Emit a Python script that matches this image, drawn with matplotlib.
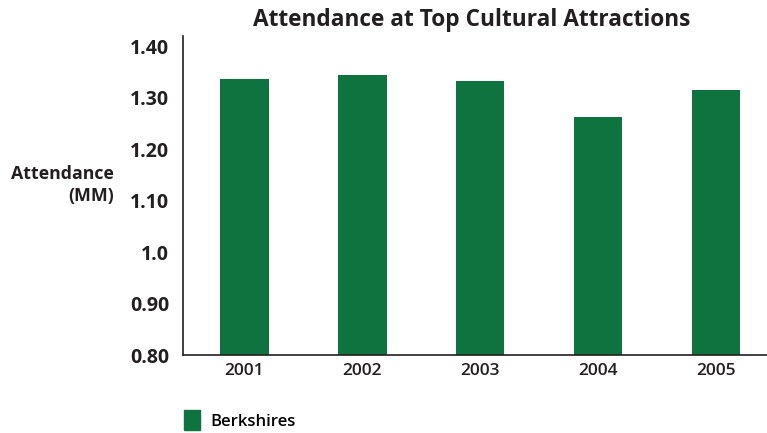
import matplotlib.pyplot as plt
from matplotlib.patches import Patch

years = ['2001', '2002', '2003', '2004', '2005']
attendance = [1.336, 1.344, 1.332, 1.263, 1.315]
y_ticks = [0.80, 0.90, 1.0, 1.10, 1.20, 1.30, 1.40]
y_tick_labels = ['0.80', '0.90', '1.0', '1.10', '1.20', '1.30', '1.40']

green = '#0E733E'
plt.rcParams['font.family'] = ['Open Sans', 'DejaVu Sans']

fig = plt.figure(figsize=(7.67, 4.33), dpi=100)
ax = fig.add_axes([0.2386, 0.180, 0.7614, 0.737])

ax.bar(range(len(years)), attendance, width=0.41, color=green)
ax.set_xlim(-0.52, 4.43)
ax.set_ylim(0.80, 1.42)
ax.set_yticks(y_ticks)
ax.set_yticklabels(y_tick_labels, fontsize=14, fontweight='bold', color='#231F20')
ax.set_xticks(range(len(years)))
ax.set_xticklabels(years, fontsize=12.5, fontweight='semibold', color='#231F20')
ax.tick_params(length=0)
ax.tick_params(axis='y', pad=10)
ax.tick_params(axis='x', pad=6)

for s in ['top', 'right']:
    ax.spines[s].set_visible(False)
for s in ['left', 'bottom']:
    ax.spines[s].set_color('#231F20')
    ax.spines[s].set_linewidth(1.2)

fig.text(0.615, 0.953, 'Attendance at Top Cultural Attractions', ha='center', va='center',
         fontsize=16.3, fontweight='bold', color='#231F20')
fig.text(0.148, 0.572, 'Attendance\n(MM)', ha='right', va='center',
         fontsize=12.8, fontweight='bold', color='#231F20', linespacing=1.3)

fig.legend(handles=[Patch(color=green, label='Berkshires')], loc='center left',
           bbox_to_anchor=(0.22, 0.03), frameon=False,
           prop={'weight': 'semibold', 'size': 12}, handlelength=1.0, handleheight=1.5,
           handletextpad=0.6)

fig.savefig('out.png', dpi=100)
